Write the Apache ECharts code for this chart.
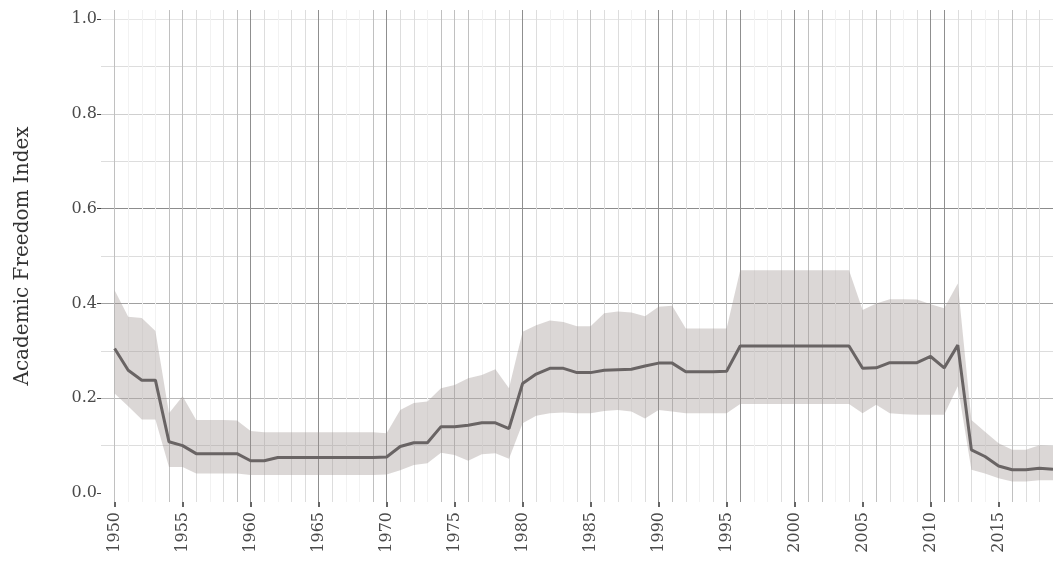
<!DOCTYPE html>
<html>
<head>
<meta charset="utf-8">
<script src="https://cdn.jsdelivr.net/npm/echarts@6/dist/echarts.min.js"></script>
<style>
  html, body { margin: 0; padding: 0; background: #fff; }
  #chart { width: 1053px; height: 561px; }
</style>
</head>
<body>
<div id="chart"></div>
<script>
// years covered by the series
const years = [
  1950, 1951, 1952, 1953, 1954, 1955, 1956, 1957, 1958, 1959,
  1960, 1961, 1962, 1963, 1964, 1965, 1966, 1967, 1968, 1969,
  1970, 1971, 1972, 1973, 1974, 1975, 1976, 1977, 1978, 1979,
  1980, 1981, 1982, 1983, 1984, 1985, 1986, 1987, 1988, 1989,
  1990, 1991, 1992, 1993, 1994, 1995, 1996, 1997, 1998, 1999,
  2000, 2001, 2002, 2003, 2004, 2005, 2006, 2007, 2008, 2009,
  2010, 2011, 2012, 2013, 2014, 2015, 2016, 2017, 2018, 2019
]

// point estimate
const afiMean = [
  0.305, 0.259, 0.238, 0.238, 0.108, 0.100, 0.083, 0.083, 0.083, 0.083,
  0.068, 0.068, 0.075, 0.075, 0.075, 0.075, 0.075, 0.075, 0.075, 0.075,
  0.076, 0.098, 0.106, 0.106, 0.140, 0.140, 0.143, 0.148, 0.148, 0.136,
  0.231, 0.251, 0.263, 0.263, 0.254, 0.254, 0.259, 0.260, 0.261, 0.268,
  0.274, 0.274, 0.256, 0.256, 0.256, 0.257, 0.310, 0.310, 0.310, 0.310,
  0.310, 0.310, 0.310, 0.310, 0.310, 0.263, 0.264, 0.275, 0.275, 0.275,
  0.288, 0.264, 0.312, 0.091, 0.077, 0.057, 0.049, 0.049, 0.052, 0.050
]

// confidence interval
const afiUpper = [
  0.428, 0.372, 0.369, 0.342, 0.168, 0.204, 0.154, 0.154, 0.154, 0.153,
  0.131, 0.128, 0.128, 0.128, 0.128, 0.128, 0.128, 0.128, 0.128, 0.128,
  0.126, 0.175, 0.190, 0.193, 0.221, 0.228, 0.242, 0.249, 0.261, 0.221,
  0.340, 0.354, 0.364, 0.361, 0.352, 0.352, 0.379, 0.383, 0.381, 0.373,
  0.393, 0.395, 0.347, 0.347, 0.347, 0.347, 0.470, 0.470, 0.470, 0.470,
  0.470, 0.470, 0.470, 0.470, 0.470, 0.386, 0.400, 0.409, 0.409, 0.408,
  0.398, 0.390, 0.442, 0.154, 0.129, 0.105, 0.091, 0.091, 0.101, 0.099
]
const afiLower = [
  0.210, 0.183, 0.155, 0.155, 0.055, 0.055, 0.041, 0.041, 0.041, 0.041,
  0.038, 0.038, 0.038, 0.038, 0.038, 0.038, 0.038, 0.038, 0.038, 0.038,
  0.039, 0.048, 0.059, 0.063, 0.085, 0.080, 0.068, 0.082, 0.084, 0.072,
  0.147, 0.163, 0.168, 0.170, 0.168, 0.168, 0.173, 0.175, 0.172, 0.157,
  0.175, 0.172, 0.168, 0.168, 0.168, 0.168, 0.188, 0.188, 0.188, 0.188,
  0.188, 0.188, 0.188, 0.188, 0.188, 0.168, 0.186, 0.168, 0.166, 0.165,
  0.165, 0.165, 0.225, 0.049, 0.041, 0.031, 0.024, 0.024, 0.027, 0.027
]

// axis: one padding year on the left
const axisYears = ['1949'].concat(years.map(String))

// how dark each yearly grid line looks (1949..2019), -1 = hidden
const vLineLevels = [
  -1,
  2, 0, 0, 0, 2, 2, 1, 0, 1, 2,
  3, 1, 0, 1, 1, 3, 1, 0, 0, 2,
  3, 1, 1, 0, 2, 2, 2, 0, 1, 1,
  3, 1, 0, 0, 1, 2, 1, 1, 0, 1,
  3, 2, 1, 0, 1, 2, 3, 0, 0, 1,
  3, 2, 2, 0, 1, 1, 2, 1, 0, 1,
  3, 3, 1, 1, 0, 1, 2, 1, 1, 0
]
const shades = ['#f2f2f2', '#dddddd', '#c0c0c0', '#8f8f8f']
const vLineColors = vLineLevels.map(l => (l < 0 ? 'rgba(0,0,0,0)' : shades[l]))

const pad = v => ['-'].concat(v)
const bandWidth = afiUpper.map((u, i) => +(u - afiLower[i]).toFixed(3))

const serif = 'DejaVu Serif'
const everyFive = (idx, val) => +val % 5 === 0

const chart = echarts.init(document.getElementById('chart'))

const option = {
  backgroundColor: '#fff',
  animation: false,
  grid: [
    { left: 101, right: 0, top: 19, bottom: 68 },
    { left: 101, right: 0, top: 10, bottom: 59 },
  ],
  xAxis: [
    {
      gridIndex: 0,
      type: 'category',
      data: axisYears,
      boundaryGap: false,
      show: false,
    },
    {
      gridIndex: 1,
      type: 'category',
      data: axisYears,
      boundaryGap: false,
      axisLine: { show: false },
      axisTick: {
        show: true,
        interval: everyFive,
        length: 5,
        lineStyle: { color: '#333', width: 1.5 },
      },
      axisLabel: {
        interval: everyFive,
        rotate: 90,
        margin: 10,
        fontFamily: serif,
        fontSize: 16,
        color: '#4a4a4a',
      },
      splitLine: {
        show: true,
        interval: 0,
        lineStyle: { color: vLineColors, width: 1 },
      },
    },
  ],
  yAxis: [
    {
      gridIndex: 0,
      type: 'value',
      min: 0,
      max: 1,
      interval: 0.2,
      name: 'Academic Freedom Index',
      nameLocation: 'middle',
      nameGap: 68,
      nameTextStyle: { fontFamily: serif, fontSize: 20, color: '#333' },
      axisLine: { show: false },
      axisTick: { show: true, length: 4, lineStyle: { color: '#444' } },
      axisLabel: {
        margin: 4,
        fontFamily: serif,
        fontSize: 16,
        color: '#4a4a4a',
        formatter: v => v.toFixed(1),
      },
      splitLine: {
        show: true,
        lineStyle: { color: ['rgba(0,0,0,0)', '#b8b8b8', '#a0a0a0', '#8c8c8c', '#cfcfcf', '#e6e6e6'] },
      },
      minorTick: { show: false, splitNumber: 2 },
      minorSplitLine: { show: true, lineStyle: { color: '#dddddd' } },
    },
    {
      gridIndex: 1,
      type: 'value',
      show: false,
      min: 0,
      max: 1,
    },
  ],
  series: [
    {
      name: 'lower',
      type: 'line',
      stack: 'ci',
      data: pad(afiLower),
      symbol: 'none',
      lineStyle: { opacity: 0 },
      silent: true,
    },
    {
      name: 'band',
      type: 'line',
      stack: 'ci',
      data: pad(bandWidth),
      symbol: 'none',
      lineStyle: { opacity: 0 },
      areaStyle: { color: 'rgba(155,144,141,0.36)', opacity: 1 },
      silent: true,
    },
    {
      name: 'Academic Freedom Index',
      type: 'line',
      data: pad(afiMean),
      symbol: 'none',
      lineStyle: { color: '#696464', width: 3 },
      z: 5,
    },
  ],
}

chart.setOption(option)
</script>
</body>
</html>
